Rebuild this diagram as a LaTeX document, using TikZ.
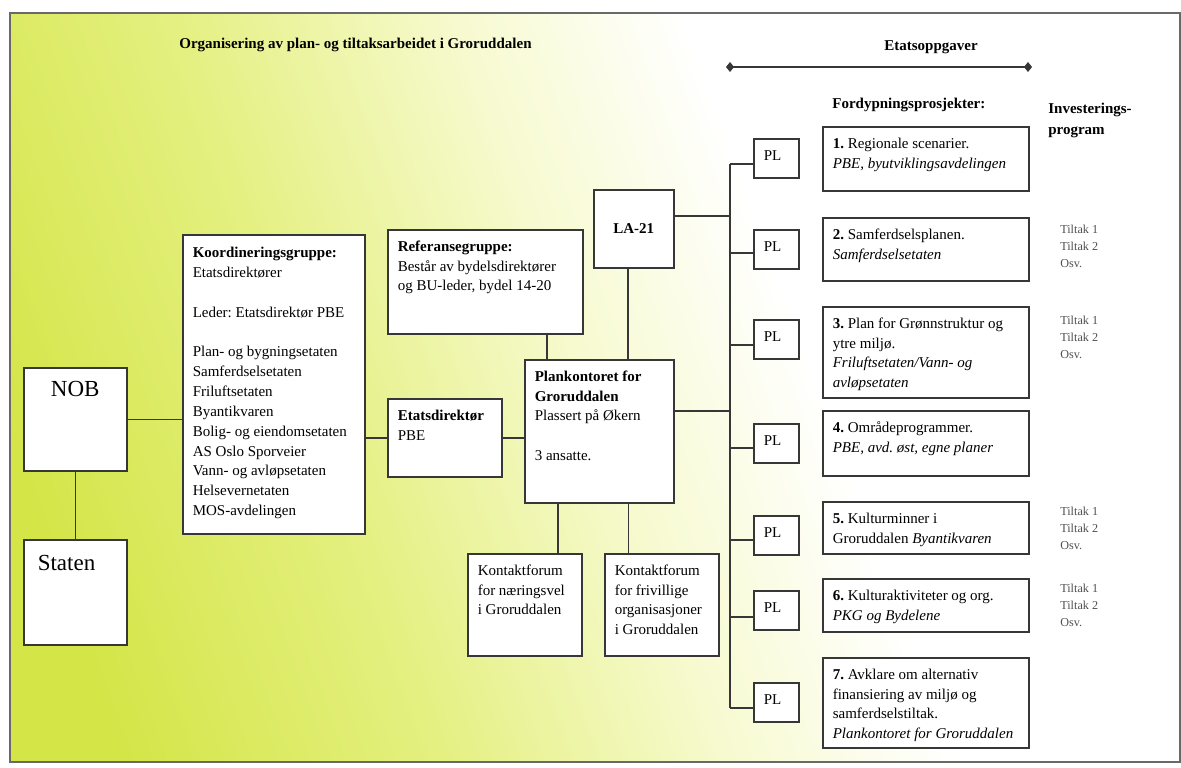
\documentclass[tikz,border=0pt]{standalone}
\usepackage{fontspec}
\setmainfont{Liberation Serif}
\usetikzlibrary{arrows.meta}
\frenchspacing
\newlength{\pxl}
\setlength{\pxl}{0.6pt}
\definecolor{bgGreen}{RGB}{212,229,72}
\definecolor{bgLime}{RGB}{228,240,128}
\definecolor{bgPale}{RGB}{247,250,208}
\definecolor{linegray}{RGB}{55,55,55}
\definecolor{framegray}{RGB}{105,105,105}
\definecolor{tiltakgray}{RGB}{80,80,80}
\pgfdeclarehorizontalshading{groruddalbg}{100bp}{color(0bp)=(bgGreen); color(23bp)=(bgGreen); color(37bp)=(bgLime); color(50bp)=(bgPale); color(60bp)=(white); color(100bp)=(white)}
\newcommand{\orgtext}[4][21.5]{%
  \parbox[c][#3\pxl][t]{#2\pxl}{\raggedright\rule{0pt}{#1\pxl}#4}%
}

\begin{document}
\begin{tikzpicture}[x=0.6pt, y=-0.6pt,
                      font=\fontsize{9pt}{11.9pt}\selectfont,
                      orgbox/.style={draw=linegray, fill=white, line width=0.9pt, inner xsep=10\pxl, inner ysep=0pt, anchor=north west},
                      bigbox/.style={orgbox, font=\fontsize{13.8pt}{16pt}\selectfont},
                      link/.style={draw=linegray, line width=0.9pt},
                      heading/.style={anchor=base west, inner sep=0pt, font=\fontsize{9pt}{12.6pt}\selectfont\bfseries},
                      tiltak/.style={anchor=base west, inner sep=0pt, text=tiltakgray, font=\fontsize{7.3pt}{10.2pt}\selectfont}]

   \useasboundingbox (0,0) rectangle (1181,767);
   \shadedraw[shading=groruddalbg, shading angle=20, draw=framegray, line width=1.2pt] (10,13) rectangle (1180,762);

   \node (title)[heading] at (179,48) {Organisering av plan- og tiltaksarbeidet i Groruddalen};
   \node (etatlabel)[heading] at (884,50) {Etatsoppgaver};
   \coordinate (etatL) at (726,67);
   \coordinate (etatR) at (1032,67);
   \draw[link, {Diamond[length=4.8pt,width=6pt]}-{Diamond[length=4.8pt,width=6pt]}] (etatL) -- (etatR);
   \node (fordlabel)[heading] at (832,108) {Fordypningsprosjekter:};
   \node (invlabel)[heading] at (1048,113) {\parbox[t]{100\pxl}{Investerings-\\program}};

   \node (nob)[bigbox] at (23,367) {\orgtext[29]{83}{103}{\centering NOB}};
   \node (staten)[bigbox, inner xsep=14\pxl] at (23,539) {\orgtext[31]{75}{105}{Staten}};

   \node (koord)[orgbox] at (182,234) {\orgtext[23]{162}{299}{\textbf{Koordineringsgruppe:}\\ Etatsdirektører\\[\baselineskip]
      Leder: Etatsdirektør PBE\\[\baselineskip] Plan- og bygningsetaten\\ Samferdselsetaten\\ Friluftsetaten\\ Byantikvaren\\
      Bolig- og eiendomsetaten\\ AS Oslo Sporveier\\ Vann- og avløpsetaten\\ Helsevernetaten\\ MOS-avdelingen}};
   \node (ref)[orgbox] at (387,229) {\orgtext{175}{104}{\textbf{Referansegruppe:}\\ Består av bydelsdirektører\\ og BU-leder, bydel 14-20}};
   \node (etat)[orgbox] at (387,398) {\orgtext{94}{78}{\textbf{Etatsdirektør}\\ PBE}};
   \node (plan)[orgbox] at (524,359) {\orgtext{129}{143}{\textbf{Plankontoret for}\\ \textbf{Groruddalen}\\ Plassert på Økern\\[\baselineskip] 3 ansatte.}};
   \node (la21)[orgbox, inner sep=0pt, minimum width=80\pxl, minimum height=78\pxl] at (593,189) {\textbf{LA-21}};
   \node (kontakt1)[orgbox] at (467,553) {\orgtext{94}{102}{Kontaktforum\\ for næringsvel\\ i Groruddalen}};
   \node (kontakt2)[orgbox] at (604,553) {\orgtext{94}{102}{Kontaktforum\\ for frivillige\\ organisasjoner\\ i Groruddalen}};

   \node (prosj1)[orgbox] at (822,126) {\orgtext{186}{64}{\textbf{1.} Regionale scenarier.\\ \textit{PBE, byutviklingsavdelingen}}};
   \node (prosj2)[orgbox] at (822,217) {\orgtext{186}{63}{\textbf{2.} Samferdselsplanen.\\ \textit{Samferdselsetaten}}};
   \node (prosj3)[orgbox] at (822,306) {\orgtext{186}{91}{\textbf{3.} Plan for Grønnstruktur og\\ ytre miljø.\\ \textit{Friluftsetaten/Vann- og}\\ \textit{avløpsetaten}}};
   \node (prosj4)[orgbox] at (822,410) {\orgtext{186}{65}{\textbf{4.} Områdeprogrammer.\\ \textit{PBE, avd. øst, egne planer}}};
   \node (prosj5)[orgbox] at (822,501) {\orgtext{186}{52}{\textbf{5.} Kulturminner i\\ Groruddalen \textit{Byantikvaren}}};
   \node (prosj6)[orgbox] at (822,578) {\orgtext{186}{53}{\textbf{6.} Kulturaktiviteter og org.\\ \textit{PKG og Bydelene}}};
   \node (prosj7)[orgbox] at (822,657) {\orgtext{186}{90}{\textbf{7.} Avklare om alternativ\\ finansiering av miljø og\\ samferdselstiltak.\\ \textit{Plankontoret for Groruddalen}}};

   \foreach \i/\top/\br in {1/138/164, 2/229/253, 3/319/345, 4/423/448, 5/515/540, 6/590/617, 7/682/708} {
     \node (pl\i)[orgbox] at (753,\top) {\orgtext{25}{39}{PL}};
     \coordinate (br\i) at (730,\br);
     \draw[link] (br\i) -- (br\i -| pl\i.west);
   }
   \draw[link] (br1) -- (br7);

   \draw[link] (nob) -- (staten);
   \draw[link] (nob.east) -- (nob.east -| koord.west);
   \draw[link] (etat.west -| koord.east) -- (etat.west);
   \draw[link] (etat.east) -- (etat.east -| plan.west);
   \draw[link] ([xshift=23\pxl]plan.north west) -- ([xshift=23\pxl]plan.north west |- ref.south);
   \draw[link] ([xshift=-6\pxl]la21.south) -- ([xshift=-6\pxl]la21.south |- plan.north);
   \draw[link] ([yshift=13\pxl]la21.east) -- ([yshift=13\pxl]la21.east -| br1);
   \draw[link] ([yshift=20.5\pxl]plan.east) -- ([yshift=20.5\pxl]plan.east -| br1);
   \draw[link] ([xshift=34\pxl]plan.south west) -- ([xshift=34\pxl]plan.south west |- kontakt1.north);
   \draw[link] ([xshift=-46\pxl]plan.south east) -- ([xshift=-46\pxl]plan.south east |- kontakt2.north);

   \foreach \b/\y in {2/233, 3/324, 5/515, 6/592}
     \node (tiltak\b)[tiltak] at (1060,\y) {\parbox[t]{60\pxl}{Tiltak 1\\ Tiltak 2\\ Osv.}};
\end{tikzpicture}
\end{document}
